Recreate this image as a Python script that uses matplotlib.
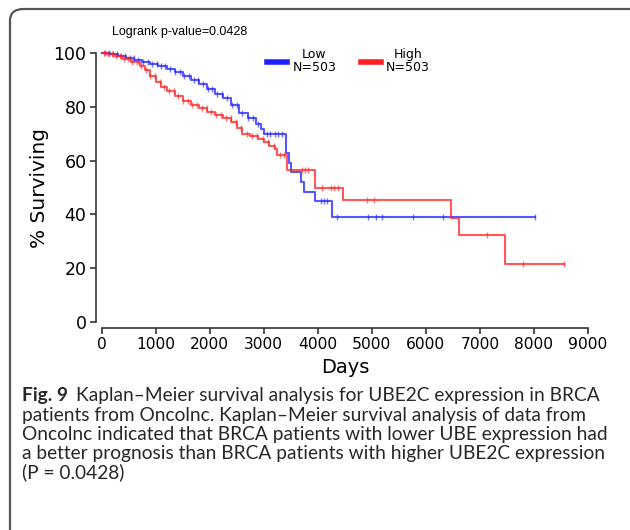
import numpy as np
import matplotlib
matplotlib.use("Agg")
import matplotlib.pyplot as plt
from matplotlib.patches import FancyBboxPatch

# ---------------- data ----------------
low_days = [0, 150, 300, 450, 600, 750, 900, 1050, 1200, 1350, 1500, 1650, 1800,
            1950, 2100, 2250, 2400, 2550, 2700, 2850, 2950, 3000, 3420, 3460,
            3500, 3690, 3750, 3940, 4270, 8020]
low_surv = [100, 99.6, 99.0, 98.3, 97.5, 96.8, 96.0, 95.0, 94.0, 92.8, 91.3, 90.0,
            88.3, 86.5, 84.8, 83.3, 80.5, 77.8, 75.8, 73.5, 71.8, 70.0, 62.8, 59.2,
            55.9, 52.2, 48.4, 45.1, 38.9, 38.9]
low_censor = [60, 130, 210, 280, 360, 430, 520, 590, 680, 760, 850, 930, 1020, 1100,
              1180, 1270, 1360, 1440, 1530, 1620, 1700, 1790, 1880, 1960, 2050, 2140,
              2230, 2320, 2410, 2500, 2600, 2700, 2800, 2900, 3050, 3120, 3200, 3270,
              3340, 4055, 4117, 4167, 4350, 4937, 5080, 5180, 5760, 6315, 8020]

high_days = [0, 100, 250, 400, 550, 700, 800, 900, 1000, 1100, 1200, 1350, 1500,
             1650, 1800, 1950, 2100, 2250, 2400, 2500, 2600, 2750, 2900, 3000, 3100,
             3200, 3250, 3430, 3950, 4460, 6470, 6620, 7455, 8565]
high_surv = [100, 99.6, 98.8, 97.8, 96.8, 95.2, 93.7, 91.5, 89.3, 87.5, 86.0, 84.0,
             82.3, 80.8, 79.5, 78.0, 77.0, 76.0, 74.5, 72.0, 70.0, 69.2, 68.0, 66.8,
             65.5, 64.2, 62.1, 56.4, 49.9, 45.3, 38.8, 32.3, 21.6, 21.6]
high_censor = [50, 120, 190, 260, 340, 410, 490, 570, 650, 730, 820, 900, 990, 1070,
               1160, 1240, 1330, 1410, 1500, 1590, 1670, 1760, 1850, 1940, 2030, 2120,
               2210, 2300, 2390, 2480, 2580, 2680, 2780, 2880, 2980, 3080, 3180, 3300,
               3380, 3700, 3765, 3826, 4074, 4240, 4290, 4370, 4907, 5043, 7130, 7795,
               8565]

x_ticks = [0, 1000, 2000, 3000, 4000, 5000, 6000, 7000, 8000, 9000]
y_ticks = [0, 20, 40, 60, 80, 100]

caption_lines = [
    "Kaplan\u2013Meier survival analysis for UBE2C expression in BRCA",
    "patients from Oncolnc. Kaplan\u2013Meier survival analysis of data from",
    "Oncolnc indicated that BRCA patients with lower UBE expression had",
    "a better prognosis than BRCA patients with higher UBE2C expression",
    "(P = 0.0428)",
]

# ---------------- figure ----------------
W, H = 630, 530
fig = plt.figure(figsize=(W / 100, H / 100), dpi=100)
fig.patch.set_facecolor("white")

def fx(px):
    return px / W

def fy(py):
    return 1 - py / H

box = FancyBboxPatch((fx(10), fy(548)), fx(650) - fx(10), fy(9) - fy(548),
                     boxstyle="round,pad=0,rounding_size=0.022",
                     transform=fig.transFigure, fill=False,
                     edgecolor="#555555", linewidth=1.6, clip_on=False)
fig.add_artist(box)

ax = fig.add_axes([fx(101.7), fy(322), fx(588) - fx(101.7), fy(53) - fy(322)])
ax.set_xlim(0, 9000)
ax.set_ylim(0, 100)

blue = "#1f1fff"
red = "#ff2020"

def surv_at(days, surv, t):
    days = np.asarray(days)
    surv = np.asarray(surv)
    idx = np.searchsorted(days, t, side="right") - 1
    return surv[idx]

for d, s, c, col, lab in [(low_days, low_surv, low_censor, blue, "Low\nN=503"),
                          (high_days, high_surv, high_censor, red, "High\nN=503")]:
    ax.step(d, s, where="post", color=col, lw=1.5, alpha=0.75, clip_on=False,
            label=lab)
    cy = [surv_at(d, s, t) for t in c]
    ax.plot(c, cy, ls="none", marker="|", ms=5, mew=1.0, color=col, alpha=0.6,
            clip_on=False)

for sp in ["top", "right"]:
    ax.spines[sp].set_visible(False)
ax.spines["left"].set_position(("outward", 4))
ax.spines["bottom"].set_position(("outward", 4))
ax.spines["left"].set_bounds(0, 100)
ax.spines["bottom"].set_bounds(0, 9000)
for sp in ["left", "bottom"]:
    ax.spines[sp].set_color("#333333")
    ax.spines[sp].set_linewidth(1.2)

ax.set_xticks(x_ticks)
ax.set_yticks(y_ticks)
ax.tick_params(axis="both", length=4, width=1.2, color="#333333",
               labelcolor="black", pad=3)
ax.tick_params(axis="x", labelsize=11.2)
ax.tick_params(axis="y", labelsize=12.5)
ax.set_xlabel("Days", fontsize=14, labelpad=4)
ax.set_ylabel("% Surviving", fontsize=14.5, labelpad=3)

leg = ax.legend(loc="upper left", bbox_to_anchor=(fx(261), fy(42)),
                bbox_transform=fig.transFigure, ncol=2, frameon=False,
                fontsize=9, handlelength=1.6, handletextpad=0.4,
                columnspacing=2.0, borderpad=0, labelspacing=0)
for h in leg.legend_handles:
    h.set_linewidth(4)
    h.set_alpha(1)
for t in leg.get_texts():
    t.set_multialignment("center")
    t.set_linespacing(1.0)

fig.text(fx(180), fy(32), "Logrank p-value=0.0428", ha="center", va="center",
         fontsize=9, family="Liberation Sans")

# caption
cap_font = "Lato"
cap_size = 13.8
cap_color = "#2a2627"
line_y = [396, 415.5, 434.5, 453.5, 472.5]
fig.canvas.draw()
r = fig.canvas.get_renderer()
tb = fig.text(fx(22), fy(line_y[0]), "Fig. 9", ha="left", va="center",
              fontsize=cap_size, family=cap_font, weight="bold", color=cap_color)
bb = tb.get_window_extent(renderer=r)
fig.text(fx(bb.x1 + 8), fy(line_y[0]), caption_lines[0], ha="left", va="center",
         fontsize=cap_size, family=cap_font, weight="normal", color=cap_color)
for yy, line in zip(line_y[1:], caption_lines[1:]):
    fig.text(fx(22), fy(yy), line, ha="left", va="center", fontsize=cap_size,
             family=cap_font, weight="normal", color=cap_color)

fig.savefig("out.png", dpi=100)
